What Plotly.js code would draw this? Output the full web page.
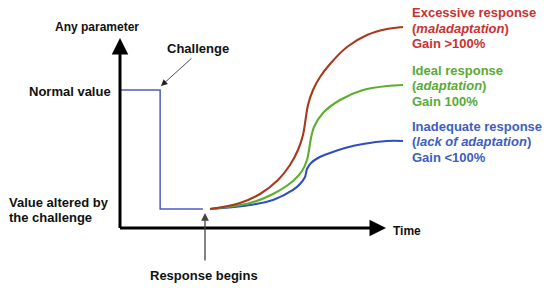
<!DOCTYPE html>
<html><head><meta charset="utf-8">
<script src="https://cdn.plot.ly/plotly-3.0.1.min.js"></script>
<style>html,body{margin:0;padding:0;background:#fff}#c{width:550px;height:290px}</style>
</head><body><div id="c"></div>
<script>
// Schematic values (time in arbitrary units, parameter with normal value = 100)
const stepTime = [0, 15.2, 15.2, 31.4];
const stepValue = [100, 100, 13.8, 13.8];

const excessiveTime  = [34.1, 45.45, 53.03, 59.85, 64.39, 67.42, 69.32, 70.27, 71.21, 73.11, 75.76, 79.55, 85.98, 93.56, 101.14, 107.2];
const excessiveValue = [13.8, 18.12, 24.64, 34.78, 45.65, 56.52, 67.39, 78.26, 89.13, 100.0, 109.42, 118.84, 131.16, 139.86, 144.2, 145.65];

const idealTime  = [34.1, 49.24, 57.95, 65.53, 68.94, 70.83, 71.59, 72.35, 73.48, 76.89, 83.33, 92.05, 101.14, 107.2];
const idealValue = [13.8, 18.12, 24.64, 34.06, 41.3, 49.28, 56.52, 65.22, 73.19, 83.33, 92.75, 100, 102.9, 103.62];

const inadequateTime  = [34.1, 49.24, 57.95, 65.53, 68.18, 70.08, 70.83, 72.35, 75.0, 79.55, 85.23, 92.05, 101.14, 107.2];
const inadequateValue = [13.8, 16.67, 20.29, 27.54, 31.88, 36.96, 42.75, 47.1, 50.72, 54.35, 57.97, 60.87, 63.04, 63.04];

const excessiveLabels = ['Excessive response', '(<i>maladaptation</i>)', 'Gain >100%'];
const idealLabels = ['Ideal response', '(<i>adaptation</i>)', 'Gain 100%'];
const inadequateLabels = ['Inadequate response', '(<i>lack of adaptation</i>)', 'Gain <100%'];

// pixel <-> data mapping for full-canvas layout
const W = 550, H = 290, X0 = 120, SX = 2.64, Y0 = 228, SY = 1.38;
const tx = px => (px - X0) / SX;
const vy = py => (Y0 - py) / SY;

const FONT = 'Liberation Sans, Arial, sans-serif';
const sp = {shape: 'spline', smoothing: 1, width: 2.1};
const traces = [
  {x: stepTime, y: stepValue, mode: 'lines', line: {color: '#4f5cbc', width: 1.5}},
  {x: inadequateTime, y: inadequateValue, mode: 'lines', line: Object.assign({color: '#2f4fc0'}, sp)},
  {x: idealTime, y: idealValue, mode: 'lines', line: Object.assign({color: '#5cae2e'}, sp)},
  {x: excessiveTime, y: excessiveValue, mode: 'lines', line: Object.assign({color: '#a8391e'}, sp)}
];

const ann = [];
function txt(t, px, py, color, size) {
  ann.push({text: t, x: tx(px), y: vy(py), xref: 'x', yref: 'y', xanchor: 'left', yanchor: 'middle',
    showarrow: false, font: {family: FONT, size: size || 13, color: color || '#111', weight: 'bold'}});
}
function arrow(px0, py0, px1, py1, w, color, size) {
  ann.push({text: '', x: tx(px1), y: vy(py1), ax: tx(px0), ay: vy(py0), xref: 'x', yref: 'y', axref: 'x', ayref: 'y',
    showarrow: true, arrowhead: 2, arrowsize: size, arrowwidth: w, arrowcolor: color, standoff: 0, startstandoff: 0});
}
// axes
arrow(120, 229.5, 120, 38, 3, '#000', 1.1);
arrow(118.5, 228, 386, 228, 3, '#000', 1.1);
// pointers
arrow(193, 57, 161, 86, 0.8, '#222', 1.6);
arrow(205, 262, 205, 213, 1.3, '#444', 1.2);

txt('<b>Any parameter</b>', 53, 27, null, 12);
txt('<b>Challenge</b>', 165, 48);
txt('<b>Normal value</b>', 27, 91);
txt('<b>Value altered by</b>', 7, 202);
txt('<b>the challenge</b>', 7, 217);
txt('<b>Response begins</b>', 148, 275);
txt('<b>Time</b>', 391, 231, null, 12);
const red = '#cc3030', green = '#5aaa34', blue = '#3d5ec0';
excessiveLabels.forEach((s, i) => txt('<b>' + s + '</b>', 410, 12.5 + i * 15.5, red));
idealLabels.forEach((s, i) => txt('<b>' + s + '</b>', 410, 70 + i * 15.5, green));
inadequateLabels.forEach((s, i) => txt('<b>' + s + '</b>', 410, 126 + i * 15.5, blue));

const layout = {
  width: W, height: H, margin: {l: 0, r: 0, t: 0, b: 0, pad: 0},
  paper_bgcolor: '#fff', plot_bgcolor: '#fff', showlegend: false,
  xaxis: {range: [tx(0), tx(W)], visible: false, fixedrange: true},
  yaxis: {range: [vy(H), vy(0)], visible: false, fixedrange: true},
  annotations: ann
};
Plotly.newPlot('c', traces, layout, {displayModeBar: false, staticPlot: true});
</script></body></html>
